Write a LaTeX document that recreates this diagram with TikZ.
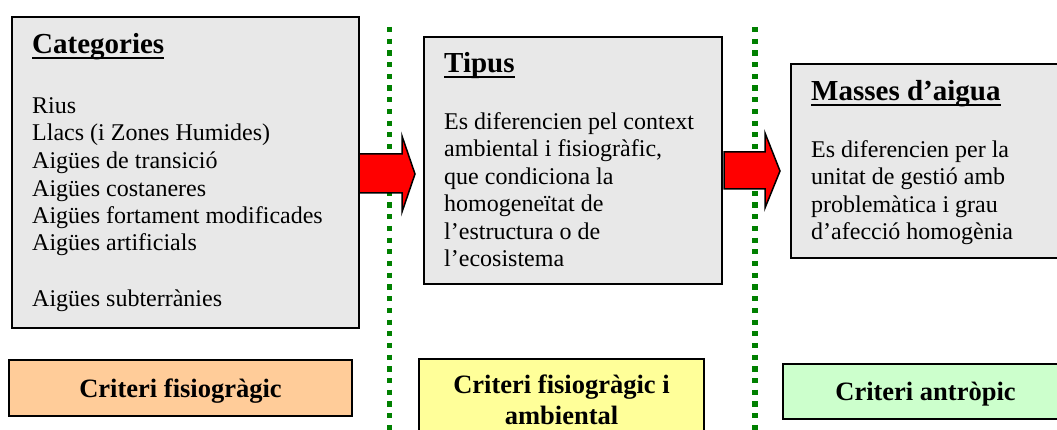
\documentclass[tikz,border=0pt]{standalone}
\usepackage{fontspec}
\setmainfont{Liberation Serif}
\usetikzlibrary{positioning}
\definecolor{panelgray}{HTML}{E8E8E8}
\definecolor{critorange}{HTML}{FFCC99}
\definecolor{crityellow}{HTML}{FFFF99}
\definecolor{critgreen}{HTML}{CCFFCC}
\definecolor{sepgreen}{HTML}{008000}
\newcommand\undl[1]{\setbox0=\hbox{#1}\rlap{\rule[-5pt]{\wd0}{2pt}}\box0}
\tikzset{
    panel/.style={draw, line width=2pt, fill=panelgray, inner sep=0pt, anchor=north west},
    crit/.style={draw, line width=2pt, inner sep=0pt, align=center, text depth=0pt,
        font=\fontsize{26.5}{31}\selectfont\bfseries},
    heading/.style={inner sep=0pt, font=\fontsize{29}{33}\selectfont\bfseries},
    bodytext/.style={inner sep=0pt, align=left, font=\fontsize{24}{27.5}\selectfont},
    redarrow/.style={draw, line width=1.5pt, fill=red, line join=miter},
    sep/.style={sepgreen, line width=5.2pt, dash pattern=on 5.2pt off 6.5pt} % dotted divider
}

\begin{document}
\begin{tikzpicture}[x=1pt, y=-1pt]
    \clip (0, 0) rectangle (1057, 430);

    \draw
        [sep]
        (389.5, 27) -- (389.5, 430)
        (755, 27) -- (755, 430)
    ;

    \draw
        node (cat) [panel, minimum width=347pt, minimum height=311pt] at (11, 16) {}
        node (tip) [panel, minimum width=298pt, minimum height=247pt] at (423, 36) {}
        node (mas) [panel, minimum width=298pt, minimum height=194pt] at (790, 63) {}
    ;

    % body text: base anchor sits on the last line
    \draw
        node (cattitle) [heading, anchor=base west] at (32, 54) {\undl{Categories}}
        node (catlist) [bodytext, anchor=base west] at (32, 306)
            {Rius\\Llacs (i Zones Humides)\\Aigües de transició\\Aigües costaneres\\
             Aigües fortament modificades\\Aigües artificials\\[27.5pt]Aigües subterrànies}
        node (tiptitle) [heading, anchor=base west] at (444, 73) {\undl{Tipus}}
        node (tiptext) [bodytext, anchor=base west] at (444, 267)
            {Es diferencien pel context\\ambiental i fisiogràfic,\\que condiciona la\\
             homogeneïtat de\\l’estructura o de\\l’ecosistema}
        node (mastitle) [heading, anchor=base west] at (811, 101) {\undl{Masses d’aigua}}
        node (mastext) [bodytext, anchor=base west] at (811, 240)
            {Es diferencien per la\\unitat de gestió amb\\problemàtica i grau\\d’afecció homogènia}
    ;

    % block arrows
    \draw
        [redarrow]
        (359, 154) -- (402, 154) -- (402, 136) -- (415, 174)
        -- (402, 212) -- (402, 193) -- (359, 193) -- cycle
    ;
    \draw
        [redarrow]
        (724, 152) -- (765, 152) -- (765, 133) -- (780, 171)
        -- (765, 208) -- (765, 189) -- (724, 189) -- cycle
    ;

    \draw
        node (fis) [crit, fill=critorange, minimum width=343pt, minimum height=56pt] at (180.5, 388)
            {Criteri fisiogràgic}
        node (amb) [crit, fill=crityellow, minimum width=285pt, minimum height=82pt] at (561.5, 400)
            {Criteri fisiogràgic i\\ambiental}
        node (ant) [crit, fill=critgreen, minimum width=285pt, minimum height=55pt] at (925.5, 391.5)
            {Criteri antròpic}
    ;
\end{tikzpicture}
\end{document}
